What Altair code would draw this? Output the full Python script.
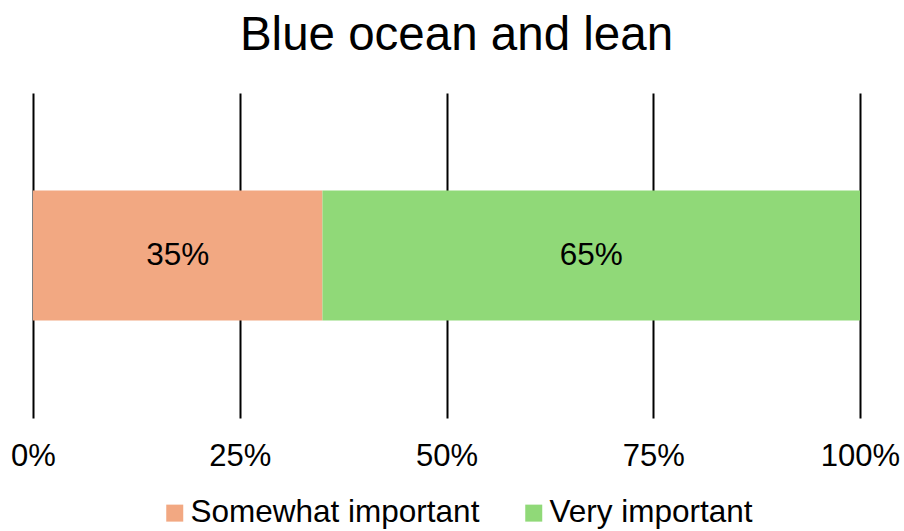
import altair as alt
import pandas as pd

title = "Blue ocean and lean"
categories = ["Somewhat important", "Very important"]
values = [0.35, 0.65]
colors = ["#F2A882", "#90D978"]
tick_values = [0, 0.25, 0.5, 0.75, 1.0]

df = pd.DataFrame({"group": [title] * len(categories), "category": categories, "value": values,
                   "order": list(range(len(categories)))})

FONT = "Liberation Sans"

base = alt.Chart(df).transform_window(
    cum="sum(value)", sort=[alt.SortField("order")], frame=[None, 0]
).transform_calculate(
    start="datum.cum - datum.value", mid="datum.cum - datum.value / 2"
)

yenc = alt.Y("group:N", axis=None,
             scale=alt.Scale(paddingInner=0.6, paddingOuter=0.3))

bars = base.mark_bar().encode(
    x=alt.X("start:Q", scale=alt.Scale(domain=[0, 1], nice=False),
            axis=alt.Axis(values=tick_values, format=".0%", title=None, domain=False,
                          ticks=False, grid=True, gridColor="black", gridWidth=2,
                          gridOpacity=1, labelFontSize=31, labelFont=FONT,
                          labelColor="black", labelPadding=23, labelFlush=False)),
    x2="cum:Q",
    y=yenc,
    color=alt.Color("category:N", scale=alt.Scale(domain=categories, range=colors),
                    legend=alt.Legend(title=None, orient="none", direction="horizontal",
                                      legendX=126, legendY=404,
                                      symbolType="square", symbolSize=289,
                                      symbolStrokeWidth=0, symbolOpacity=1,
                                      labelFontSize=31.5, labelFont=FONT, labelColor="black",
                                      labelOffset=0, columnPadding=38, labelLimit=400)),
    order=alt.Order("order:Q"),
)

labels = base.mark_text(fontSize=31.5, font=FONT, color="black").encode(
    x=alt.X("mid:Q"),
    y=yenc,
    text=alt.Text("value:Q", format=".0%"),
)

chart = alt.layer(bars, labels).properties(
    width=827, height=325,
    title=alt.TitleParams(title, fontSize=47.5, font=FONT, fontWeight="normal",
                          color="black", anchor="middle", offset=34, dx=10),
    autosize=alt.AutoSizeParams(type="none"),
    padding={"left": 33, "top": 93, "right": 44, "bottom": 113},
).configure_view(stroke=None)

chart.save("out.html", embed_options={"renderer": "svg", "actions": False})
